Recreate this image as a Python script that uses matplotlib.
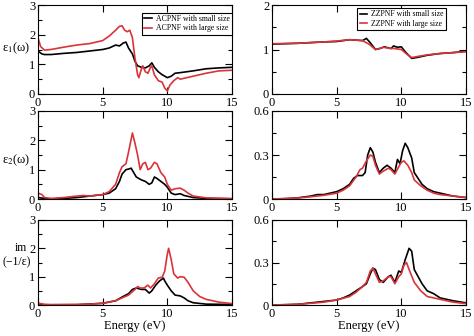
import matplotlib
matplotlib.use("Agg")
import matplotlib.pyplot as plt
from matplotlib.ticker import MultipleLocator

plt.rcParams['font.family'] = ['Liberation Serif', 'DejaVu Serif']
plt.rcParams['mathtext.fontset'] = 'stix'

BLACK = '#000000'
RED = '#d8343a'

# ---------------- ACPNF (left column) ----------------
ac_e1_small_x = [0, 0.3, 0.5, 1, 2, 3, 4, 5, 5.5, 6, 6.3, 6.6, 6.8, 7, 7.3, 7.5, 7.7, 8, 8.3, 8.6, 8.8, 9, 9.3, 9.6, 10, 10.3, 10.6, 11, 12, 13, 14, 15]
ac_e1_small_y = [1.45, 1.35, 1.33, 1.33, 1.37, 1.40, 1.45, 1.50, 1.55, 1.65, 1.62, 1.72, 1.75, 1.55, 1.35, 1.10, 0.95, 0.90, 0.88, 0.95, 1.05, 0.90, 0.75, 0.65, 0.55, 0.60, 0.70, 0.72, 0.78, 0.85, 0.88, 0.90]
ac_e1_large_x = [0, 0.2, 0.5, 1, 2, 3, 4, 5, 5.5, 6, 6.3, 6.5, 6.7, 6.9, 7.1, 7.3, 7.5, 7.7, 7.8, 8, 8.1, 8.3, 8.5, 8.7, 8.8, 9, 9.3, 9.6, 9.8, 10, 10.2, 10.5, 10.8, 11, 12, 13, 14, 15]
ac_e1_large_y = [1.90, 1.60, 1.48, 1.50, 1.58, 1.65, 1.70, 1.80, 1.95, 2.15, 2.28, 2.30, 2.15, 2.10, 2.15, 1.90, 1.20, 0.65, 0.55, 0.85, 0.95, 0.75, 0.70, 0.90, 0.95, 0.65, 0.45, 0.40, 0.20, 0.10, 0.30, 0.45, 0.55, 0.50, 0.60, 0.70, 0.78, 0.80]

ac_e2_small_x = [0, 0.5, 1, 2, 3, 4, 5, 5.5, 6, 6.3, 6.5, 6.8, 7, 7.2, 7.4, 7.6, 8, 8.3, 8.6, 8.8, 9, 9.2, 9.5, 9.8, 10, 10.3, 10.6, 11, 11.3, 12, 13, 15]
ac_e2_small_y = [0.05, 0.02, 0.00, 0.02, 0.05, 0.10, 0.15, 0.20, 0.35, 0.60, 0.85, 1.00, 1.02, 1.05, 0.90, 0.75, 0.65, 0.60, 0.50, 0.55, 0.75, 0.70, 0.60, 0.50, 0.40, 0.20, 0.15, 0.18, 0.12, 0.05, 0.02, 0.01]
ac_e2_large_x = [0, 0.3, 0.5, 1, 2, 3, 3.5, 4, 5, 5.5, 6, 6.3, 6.5, 6.8, 7, 7.3, 7.5, 7.7, 7.9, 8.1, 8.3, 8.5, 8.7, 9, 9.2, 9.5, 9.8, 10, 10.3, 10.6, 11, 11.3, 11.6, 12, 13, 15]
ac_e2_large_y = [0.20, 0.15, 0.05, 0.02, 0.05, 0.10, 0.12, 0.10, 0.15, 0.25, 0.50, 0.90, 1.10, 1.20, 1.60, 2.25, 1.90, 1.50, 1.00, 1.20, 1.25, 1.00, 1.05, 1.25, 1.20, 0.90, 0.75, 0.50, 0.30, 0.35, 0.37, 0.30, 0.20, 0.10, 0.04, 0.01]

ac_loss_small_x = [0, 0.5, 3, 5, 6, 6.5, 7, 7.3, 7.6, 8, 8.3, 8.6, 8.8, 9.1, 9.4, 9.7, 9.8, 10, 10.3, 10.6, 11, 11.3, 11.6, 12, 13, 15]
ac_loss_small_y = [0.05, 0.01, 0.01, 0.06, 0.15, 0.28, 0.40, 0.55, 0.60, 0.55, 0.55, 0.42, 0.50, 0.70, 0.85, 0.95, 0.85, 0.70, 0.50, 0.35, 0.32, 0.25, 0.15, 0.08, 0.03, 0.02]
ac_loss_large_x = [0, 0.5, 1, 3, 4, 5, 6, 6.5, 7, 7.5, 7.7, 7.9, 8.2, 8.5, 8.7, 9, 9.3, 9.6, 9.8, 10, 10.1, 10.3, 10.5, 10.8, 11, 11.3, 11.6, 12, 12.5, 13, 14, 15]
ac_loss_large_y = [0.07, 0.02, 0.01, 0.02, 0.03, 0.06, 0.15, 0.25, 0.35, 0.55, 0.65, 0.60, 0.60, 0.70, 0.60, 0.75, 0.95, 0.98, 1.20, 1.80, 2.00, 1.60, 1.10, 0.95, 1.00, 0.98, 0.80, 0.50, 0.30, 0.20, 0.10, 0.05]

# ---------------- ZZPNF (right column) ----------------
zz_e1_small_x = [0, 2, 4, 5, 6, 7, 7.3, 7.6, 8, 8.3, 8.7, 9.2, 9.4, 9.7, 10, 10.3, 10.8, 11.2, 12, 13, 14, 15]
zz_e1_small_y = [1.12, 1.14, 1.17, 1.18, 1.22, 1.20, 1.25, 1.15, 1.00, 1.02, 1.06, 1.02, 1.08, 1.05, 1.06, 0.95, 0.80, 0.82, 0.87, 0.91, 0.93, 0.96]
zz_e1_large_x = [0, 2, 4, 5, 6, 7, 7.5, 8, 8.3, 8.6, 9, 9.5, 10, 10.4, 10.8, 11, 12, 13, 14, 15]
zz_e1_large_y = [1.13, 1.14, 1.17, 1.19, 1.22, 1.20, 1.12, 1.00, 1.02, 1.05, 1.03, 1.02, 1.00, 0.90, 0.82, 0.83, 0.88, 0.91, 0.93, 0.95]

zz_e2_small_x = [0, 1, 2, 3, 3.5, 4, 5, 5.5, 6, 6.3, 6.6, 7, 7.2, 7.4, 7.6, 7.8, 8, 8.3, 8.6, 8.9, 9.2, 9.5, 9.7, 9.9, 10.1, 10.3, 10.5, 10.8, 11, 11.3, 11.6, 12, 12.5, 13, 14, 15]
zz_e2_small_y = [0.0, 0.002, 0.008, 0.02, 0.03, 0.03, 0.05, 0.07, 0.10, 0.14, 0.16, 0.16, 0.18, 0.30, 0.35, 0.32, 0.25, 0.18, 0.21, 0.23, 0.21, 0.18, 0.27, 0.24, 0.33, 0.38, 0.35, 0.28, 0.18, 0.14, 0.10, 0.07, 0.05, 0.04, 0.02, 0.01]
zz_e2_large_x = [0, 1, 2, 3, 4, 5, 5.5, 6, 6.5, 6.8, 7, 7.3, 7.6, 7.8, 8, 8.3, 8.6, 9, 9.2, 9.5, 9.8, 10, 10.2, 10.5, 10.8, 11, 11.5, 12, 12.5, 13, 14, 15]
zz_e2_large_y = [0.0, 0.003, 0.007, 0.015, 0.025, 0.04, 0.06, 0.09, 0.15, 0.20, 0.21, 0.26, 0.30, 0.29, 0.23, 0.17, 0.19, 0.21, 0.20, 0.17, 0.22, 0.25, 0.26, 0.23, 0.18, 0.13, 0.09, 0.06, 0.04, 0.03, 0.02, 0.01]

zz_loss_small_x = [0, 1, 2, 3, 4, 5, 5.5, 6, 6.5, 7, 7.3, 7.6, 7.8, 8, 8.3, 8.6, 9, 9.2, 9.5, 9.8, 10, 10.3, 10.6, 10.8, 11, 11.3, 11.6, 12, 12.5, 13, 14, 15]
zz_loss_small_y = [0.0, 0.002, 0.005, 0.015, 0.025, 0.035, 0.05, 0.07, 0.10, 0.13, 0.15, 0.22, 0.26, 0.25, 0.18, 0.16, 0.20, 0.21, 0.16, 0.24, 0.23, 0.32, 0.40, 0.38, 0.25, 0.20, 0.15, 0.10, 0.08, 0.05, 0.03, 0.015]
zz_loss_large_x = [0, 1, 2, 3, 4, 5, 6, 6.5, 7, 7.3, 7.6, 7.8, 8, 8.3, 8.6, 9, 9.2, 9.5, 9.8, 10, 10.2, 10.4, 10.6, 11, 11.5, 12, 12.5, 13, 14, 15]
zz_loss_large_y = [0.0, 0.002, 0.005, 0.012, 0.02, 0.035, 0.06, 0.09, 0.13, 0.16, 0.24, 0.26, 0.22, 0.16, 0.17, 0.20, 0.20, 0.15, 0.20, 0.22, 0.28, 0.30, 0.25, 0.16, 0.10, 0.06, 0.05, 0.04, 0.02, 0.01]

x_ticks = [0, 5, 10, 15]
ac_labels = ['ACPNF with small size', 'ACPNF with large size']
zz_labels = ['ZZPNF with small size', 'ZZPNF with large size']
row_ylabels = ['ε$_1$(ω)', 'ε$_2$(ω)']
loss_label_top = 'im'
loss_label_bottom = '(−1/ε)'

fig = plt.figure(figsize=(4.74, 3.36), dpi=100)

col_x = [38 / 474, 272 / 474]
col_w = 194 / 474
row_top = [5, 111, 220]
row_bot = [94, 199, 305]
label_y = [48, 160]

panels = [
    [(ac_e1_small_x, ac_e1_small_y, ac_e1_large_x, ac_e1_large_y, 3, [0, 1, 2, 3], 0.5),
     (ac_e2_small_x, ac_e2_small_y, ac_e2_large_x, ac_e2_large_y, 3, [0, 1, 2, 3], 0.5),
     (ac_loss_small_x, ac_loss_small_y, ac_loss_large_x, ac_loss_large_y, 3, [0, 1, 2, 3], 0.5)],
    [(zz_e1_small_x, zz_e1_small_y, zz_e1_large_x, zz_e1_large_y, 2, [0, 1, 2], 0.5),
     (zz_e2_small_x, zz_e2_small_y, zz_e2_large_x, zz_e2_large_y, 0.6, [0, 0.3, 0.6], 0.15),
     (zz_loss_small_x, zz_loss_small_y, zz_loss_large_x, zz_loss_large_y, 0.6, [0, 0.3, 0.6], 0.15)],
]

for c in range(2):
    for r in range(3):
        sx, sy, lx, ly, ymax, yt, ymin = panels[c][r]
        ax = fig.add_axes([col_x[c], 1 - row_bot[r] / 336, col_w, (row_bot[r] - row_top[r]) / 336])
        labs = ac_labels if c == 0 else zz_labels
        ax.plot(sx, sy, color=BLACK, lw=1.2, label=labs[0])
        ax.plot(lx, ly, color=RED, lw=1.2, label=labs[1])
        ax.set_xlim(0, 15)
        ax.set_ylim(0, ymax)
        ax.set_xticks(x_ticks)
        ax.set_yticks(yt)
        ax.set_yticklabels([('%g' % v) for v in yt])
        ax.yaxis.set_minor_locator(MultipleLocator(ymin))
        ax.tick_params(which='both', direction='in', top=True, right=True, labelsize=9, pad=2)
        ax.tick_params(which='major', length=5, width=0.8)
        ax.tick_params(which='minor', length=3, width=0.8)
        for s in ax.spines.values():
            s.set_linewidth(0.8)
        if c == 0:
            if r < 2:
                fig.text(0.005, 1 - label_y[r] / 336, row_ylabels[r], fontsize=9,
                         ha='left', va='center')
            else:
                fig.text(21 / 474, 1 - 248 / 336, loss_label_top, fontsize=8.5,
                         ha='center', va='center')
                fig.text(17 / 474, 1 - 262 / 336, loss_label_bottom, fontsize=8.5,
                         ha='center', va='center')
        if r == 2:
            ax.set_xlabel('Energy (eV)', fontsize=9, labelpad=0)
        if r == 0:
            if c == 0:
                anchor = (1.0, 0.915)
            else:
                anchor = (0.897, 0.965)
            leg = ax.legend(loc='upper right', bbox_to_anchor=anchor, borderaxespad=0,
                            fontsize=5.6, frameon=True, fancybox=False, framealpha=1,
                            edgecolor='black', handlelength=1.0, handletextpad=0.5,
                            borderpad=0.3, labelspacing=0.2)
            leg.get_frame().set_linewidth(0.8)

fig.savefig('out.png', dpi=100)
